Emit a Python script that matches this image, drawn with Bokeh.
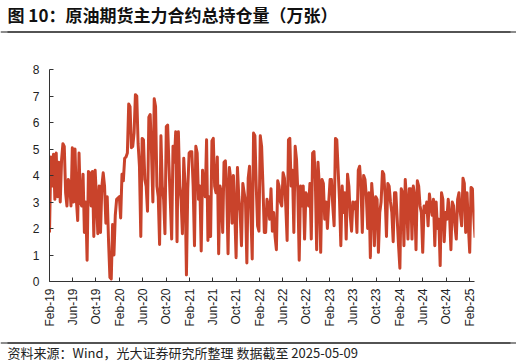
import numpy as np
import pandas as pd
from bokeh.plotting import figure
from bokeh.layouts import column
from bokeh.models import Range1d, FixedTicker, DatetimeTickFormatter, Span
from bokeh.core.properties import value
from bokeh.embed import file_html
from bokeh.resources import INLINE

title_text = "图 10：原油期货主力合约总持仓量（万张）"
source_text = "资料来源：Wind，光大证券研究所整理  数据截至 2025-05-09"

tick_labels = ["Feb-19", "Jun-19", "Oct-19", "Feb-20", "Jun-20", "Oct-20",
               "Feb-21", "Jun-21", "Oct-21", "Feb-22", "Jun-22", "Oct-22",
               "Feb-23", "Jun-23", "Oct-23", "Feb-24", "Jun-24", "Oct-24",
               "Feb-25"]
y_ticks = [0, 1, 2, 3, 4, 5, 6, 7, 8]

# weekly readings of total open interest of the main contract (10k lots)
hold_2019 = [1.85, 4.7, 3.6, 4.8, 3.1, 4.85, 3.2, 4.5, 3.0, 4.6,
             5.2, 5.1, 3.35, 2.85, 3.85, 3.7, 2.85, 5.05, 3.0, 5.0,
             3.1, 2.3, 4.85, 3.0, 2.85, 4.05, 1.85, 3.0, 0.8, 4.15,
             4.1, 2.85, 4.15, 1.7, 4.2, 3.1, 1.8, 3.6, 1.85, 3.6,
             4.1, 3.6, 2.2, 3.2, 1.5, 0.15, 0.1, 2.15, 1.0, 2.5,
             3.1, 3.15]
hold_2020 = [3.2, 2.4, 4.05, 3.8, 4.65, 4.7, 4.85, 6.7, 6.6, 5.05,
             5.1, 5.6, 7.05, 7.0, 5.2, 4.35, 1.7, 5.4, 5.35, 3.85,
             3.6, 2.65, 6.2, 6.3, 4.85, 3.0, 6.9, 6.6, 3.6, 3.2,
             1.4, 5.5, 3.6, 3.1, 1.8, 5.85, 5.9, 4.35, 3.0, 1.6,
             5.1, 4.5, 5.65, 1.5, 5.65, 3.6, 3.1, 1.8, 4.65, 3.6,
             0.25, 3.5, 4.85, 4.9]
hold_2021 = [4.9, 3.6, 1.35, 5.1, 4.85, 3.1, 3.6, 1.15, 4.2, 3.6,
             3.2, 5.35, 1.55, 3.2, 1.7, 5.3, 5.4, 3.6, 3.35, 4.7,
             1.05, 3.6, 3.35, 1.85, 4.5, 4.55, 3.5, 1.05, 4.3, 3.85,
             2.2, 4.0, 2.6, 0.9, 4.3, 3.2, 2.6, 1.35, 3.7, 3.35,
             3.0, 0.7, 3.9, 4.35, 2.6, 0.85, 5.6, 5.5, 3.6, 2.1,
             1.9, 5.5, 5.1, 3.6, 1.85]
hold_2022 = [1.85, 3.1, 2.85, 2.35, 3.5, 1.9, 2.6, 1.7, 1.2, 3.8,
             3.6, 3.0, 2.85, 4.1, 3.9, 2.85, 1.55, 5.35, 5.4, 3.6,
             4.2, 1.85, 5.1, 4.6, 3.35, 0.8, 3.6, 2.85, 3.6, 1.6,
             3.35, 3.2, 2.85, 3.7, 1.6, 4.85, 4.9, 3.85, 1.2, 4.5,
             3.6, 1.1, 3.85, 3.7, 2.35, 3.0, 2.0, 3.0, 3.85, 3.85,
             2.85, 2.1, 5.4, 5.35]
hold_2023 = [4.2, 3.1, 1.35, 3.6, 2.6, 3.35, 1.6, 4.05, 3.6, 2.5,
             1.9, 3.0, 2.75, 3.0, 1.85, 4.2, 4.35, 3.6, 1.85, 4.0,
             3.85, 3.2, 2.0, 3.35, 0.9, 3.7, 3.0, 1.35, 3.2, 3.1,
             1.1, 2.6, 3.0, 4.15, 4.05, 3.2, 1.7, 3.7, 3.6, 3.0,
             2.6, 1.5, 3.35, 3.35, 2.35, 1.35, 0.5, 3.5, 3.35, 1.35,
             3.85, 3.0, 1.6, 3.5]
hold_2024 = [3.5, 1.6, 3.6, 3.2, 1.2, 3.8, 3.6, 2.85, 2.6, 1.1,
             2.85, 2.6, 3.0, 2.1, 3.3, 2.85, 2.5, 3.1, 1.35, 3.0,
             2.0, 2.35, 0.6, 3.35, 3.1, 1.5, 2.6, 2.35, 3.1, 2.5,
             1.2, 3.0, 2.85, 2.1, 1.6, 3.1, 3.35, 2.6, 2.1, 3.9,
             3.7, 1.85, 3.35, 2.1, 1.1, 3.55, 3.5, 2.5, 1.65]

values = hold_2019 + hold_2020 + hold_2021 + hold_2022 + hold_2023 + hold_2024
dates = pd.date_range("2019-02-01", periods=len(values), freq="7D")

W = 516
LINE_COLOR = "#C9432B"
TEXT_COLOR = "#222222"
RULE_COLOR = "#1a1a1a"

# ---- title strip ----
TH = 36
t = figure(width=W, height=TH, x_range=Range1d(0, W), y_range=Range1d(0, TH),
           x_axis_type=None, y_axis_type=None, toolbar_location=None,
           output_backend="svg", min_border=0, frame_align=False)
t.grid.visible = False
t.outline_line_color = None
t.text(x=[7], y=[TH - 14], text=[title_text], text_font=value("Noto Sans CJK SC"),
       text_font_size="17px", text_font_style="bold", text_baseline="middle",
       text_align="left", text_color="#111111")
t.quad(left=[7], right=[510], bottom=[TH - 32], top=[TH - 31],
       fill_color=RULE_COLOR, fill_alpha=1, line_color=None)
t.add_layout(Span(location=TH - 31.5, dimension="width",
                  line_color=RULE_COLOR, line_width=1))

# ---- main chart ----
H = 297
p = figure(width=W, height=H, x_axis_type="datetime",
           x_range=Range1d(pd.Timestamp("2019-02-01"), pd.Timestamp("2025-02-25")),
           y_range=Range1d(0, 8), toolbar_location=None, output_backend="svg",
           min_border_left=49, min_border_right=W - 474, min_border_top=33,
           min_border_bottom=H - 245, frame_align=False)
p.grid.visible = False
p.outline_line_color = None

p.line(dates, values, line_color=LINE_COLOR, line_width=3, line_join="round")

tick_dates = pd.to_datetime(tick_labels, format="%b-%y")
p.xaxis.ticker = FixedTicker(ticks=[d.timestamp() * 1000 for d in tick_dates])
fmt = "%b-%y"
p.xaxis.formatter = DatetimeTickFormatter(days=fmt, months=fmt, years=fmt,
                                          hours=fmt, minutes=fmt)
p.yaxis.ticker = FixedTicker(ticks=y_ticks)

for ax in (p.xaxis, p.yaxis):
    ax.axis_line_color = "#333333"
    ax.axis_line_width = 1
    ax.major_tick_line_color = "#333333"
    ax.major_tick_in = 4
    ax.major_tick_out = 0
    ax.minor_tick_line_color = None
    ax.major_label_text_font = "Liberation Sans"
    ax.major_label_text_font_size = "12px"
    ax.major_label_text_color = TEXT_COLOR
p.yaxis.major_label_standoff = 10
p.xaxis.major_label_standoff = 7
p.xaxis.major_label_orientation = np.pi / 2

# ---- source strip ----
SH = 31
s = figure(width=W, height=SH, x_range=Range1d(0, W), y_range=Range1d(0, SH),
           x_axis_type=None, y_axis_type=None, toolbar_location=None,
           output_backend="svg", min_border=0, frame_align=False)
s.grid.visible = False
s.outline_line_color = None
s.quad(left=[7], right=[510], bottom=[SH - 10], top=[SH - 9],
       fill_color=RULE_COLOR, fill_alpha=1, line_color=None)
s.add_layout(Span(location=SH - 9.5, dimension="width",
                  line_color=RULE_COLOR, line_width=1))
s.text(x=[7], y=[SH - 18.5], text=[source_text], text_font=value("Noto Sans CJK SC"),
       text_font_size="13px", text_baseline="middle", text_align="left",
       text_color=TEXT_COLOR)

layout = column(t, p, s, spacing=0)
open("out.html", "w").write(file_html(layout, INLINE))
